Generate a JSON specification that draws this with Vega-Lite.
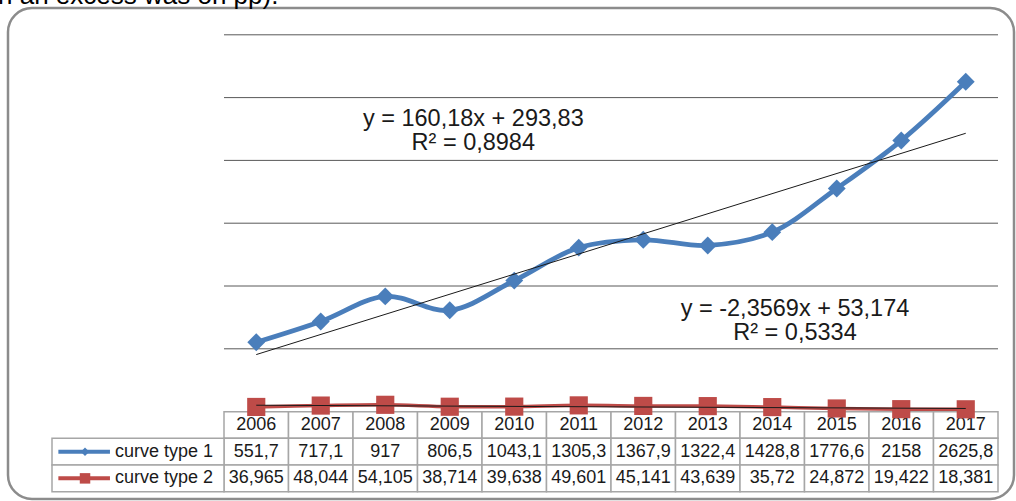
{
  "$schema": "https://vega.github.io/schema/vega-lite/v6.json",
  "width": 1006,
  "height": 491,
  "autosize": {"type": "none"},
  "padding": {"left": 8, "top": 8, "right": 2, "bottom": 2},
  "background": "white",
  "config": {
    "view": {"stroke": "#8c8c8c", "strokeWidth": 2.5, "cornerRadius": 24},
    "font": "Liberation Sans",
    "locale": {"number": {"decimal": ",", "thousands": " ", "grouping": [3], "currency": ["", ""]}}
  },
  "datasets": {
    "main": [
      {"year": 2006, "series": "curve type  1", "value": 551.7},
      {"year": 2007, "series": "curve type  1", "value": 717.1},
      {"year": 2008, "series": "curve type  1", "value": 917},
      {"year": 2009, "series": "curve type  1", "value": 806.5},
      {"year": 2010, "series": "curve type  1", "value": 1043.1},
      {"year": 2011, "series": "curve type  1", "value": 1305.3},
      {"year": 2012, "series": "curve type  1", "value": 1367.9},
      {"year": 2013, "series": "curve type  1", "value": 1322.4},
      {"year": 2014, "series": "curve type  1", "value": 1428.8},
      {"year": 2015, "series": "curve type  1", "value": 1776.6},
      {"year": 2016, "series": "curve type  1", "value": 2158},
      {"year": 2017, "series": "curve type  1", "value": 2625.8},
      {"year": 2006, "series": "curve type  2", "value": 36.965},
      {"year": 2007, "series": "curve type  2", "value": 48.044},
      {"year": 2008, "series": "curve type  2", "value": 54.105},
      {"year": 2009, "series": "curve type  2", "value": 38.714},
      {"year": 2010, "series": "curve type  2", "value": 39.638},
      {"year": 2011, "series": "curve type  2", "value": 49.601},
      {"year": 2012, "series": "curve type  2", "value": 45.141},
      {"year": 2013, "series": "curve type  2", "value": 43.639},
      {"year": 2014, "series": "curve type  2", "value": 35.72},
      {"year": 2015, "series": "curve type  2", "value": 24.872},
      {"year": 2016, "series": "curve type  2", "value": 19.422},
      {"year": 2017, "series": "curve type  2", "value": 18.381}
    ],
    "years": [
      {"year": 2006}, {"year": 2007}, {"year": 2008}, {"year": 2009}, {"year": 2010}, {"year": 2011},
      {"year": 2012}, {"year": 2013}, {"year": 2014}, {"year": 2015}, {"year": 2016}, {"year": 2017}
    ],
    "series": [{"series": "curve type  1"}, {"series": "curve type  2"}],
    "grid": [{"g": 500}, {"g": 1000}, {"g": 1500}, {"g": 2000}, {"g": 2500}, {"g": 3000}]
  },
  "resolve": {"scale": {"x": "independent", "y": "independent", "size": "independent", "color": "shared", "shape": "independent"}},
  "layer": [
    {
      "data": {"values": [{}]},
      "mark": {"type": "text", "align": "left", "baseline": "alphabetic", "fontSize": 26, "color": "#000000"},
      "encoding": {
        "x": {"datum": 2001.996, "type": "quantitative", "scale": {"domain": [2005.5, 2017.5], "range": [216, 990], "nice": false, "zero": false}, "axis": null},
        "y": {"datum": 3246, "type": "quantitative", "scale": {"domain": [0, 3000], "range": [403.6, 26.8], "nice": false, "zero": false}, "axis": null},
        "text": {"value": "n an excess was on  pp)."}
      }
    },
    {
      "data": {"name": "grid"},
      "mark": {"type": "rule", "color": "#595959", "strokeWidth": 1},
      "encoding": {
        "x": {"datum": 2005.5, "type": "quantitative", "scale": {"domain": [2005.5, 2017.5], "range": [216, 990], "nice": false, "zero": false}, "axis": null},
        "x2": {"datum": 2017.5},
        "y": {"field": "g", "type": "quantitative", "scale": {"domain": [0, 3000], "range": [403.6, 26.8], "nice": false, "zero": false}, "axis": null}
      }
    },
    {
      "data": {"name": "years"},
      "mark": {"type": "rect", "fill": "white", "stroke": "#a6a6a6", "strokeWidth": 1.5},
      "encoding": {
        "x": {"field": "year", "type": "ordinal", "scale": {"type": "band", "domain": [2006, 2007, 2008, 2009, 2010, 2011, 2012, 2013, 2014, 2015, 2016, 2017], "range": [216, 990], "paddingInner": 0, "paddingOuter": 0}, "axis": null},
        "y": {"datum": "hdr", "type": "ordinal", "scale": {"type": "band", "domain": ["hdr", "curve type  1", "curve type  2"], "range": [403.7, 483.7], "paddingInner": 0, "paddingOuter": 0}, "axis": null}
      }
    },
    {
      "data": {"name": "main"},
      "mark": {"type": "rect", "fill": "white", "stroke": "#a6a6a6", "strokeWidth": 1.5},
      "encoding": {
        "x": {"field": "year", "type": "ordinal", "scale": {"type": "band", "domain": [2006, 2007, 2008, 2009, 2010, 2011, 2012, 2013, 2014, 2015, 2016, 2017], "range": [216, 990], "paddingInner": 0, "paddingOuter": 0}, "axis": null},
        "y": {"field": "series", "type": "ordinal", "scale": {"type": "band", "domain": ["hdr", "curve type  1", "curve type  2"], "range": [403.7, 483.7], "paddingInner": 0, "paddingOuter": 0}, "axis": null}
      }
    },
    {
      "data": {"name": "series"},
      "mark": {"type": "rect", "fill": "white", "stroke": "#a6a6a6", "strokeWidth": 1.5},
      "encoding": {
        "x": {"datum": 0, "type": "quantitative", "scale": {"domain": [0, 1], "range": [44, 216], "nice": false, "zero": false}, "axis": null},
        "x2": {"datum": 1},
        "y": {"field": "series", "type": "ordinal", "scale": {"type": "band", "domain": ["hdr", "curve type  1", "curve type  2"], "range": [403.7, 483.7], "paddingInner": 0, "paddingOuter": 0}, "axis": null}
      }
    },
    {
      "data": {"name": "series"},
      "mark": {"type": "rule", "strokeWidth": 4},
      "encoding": {
        "x": {"datum": 0.037, "type": "quantitative", "scale": {"domain": [0, 1], "range": [44, 216], "nice": false, "zero": false}, "axis": null},
        "x2": {"datum": 0.337},
        "y": {"field": "series", "type": "ordinal", "scale": {"type": "band", "domain": ["hdr", "curve type  1", "curve type  2"], "range": [403.7, 483.7], "paddingInner": 0, "paddingOuter": 0}, "axis": null},
        "color": {"field": "series", "type": "nominal", "scale": {"domain": ["curve type  1", "curve type  2"], "range": ["#4A7EBB", "#BE4B48"]}, "legend": null}
      }
    },
    {
      "data": {"name": "series"},
      "mark": {"type": "point", "filled": true, "opacity": 1},
      "encoding": {
        "x": {"datum": 0.192, "type": "quantitative", "scale": {"domain": [0, 1], "range": [44, 216], "nice": false, "zero": false}, "axis": null},
        "y": {"field": "series", "type": "ordinal", "scale": {"type": "band", "domain": ["hdr", "curve type  1", "curve type  2"], "range": [403.7, 483.7], "paddingInner": 0, "paddingOuter": 0}, "axis": null},
        "color": {"field": "series", "type": "nominal", "scale": {"domain": ["curve type  1", "curve type  2"], "range": ["#4A7EBB", "#BE4B48"]}, "legend": null},
        "shape": {"field": "series", "type": "nominal", "scale": {"domain": ["curve type  1", "curve type  2"], "range": ["diamond", "square"]}, "legend": null},
        "size": {"field": "series", "type": "nominal", "scale": {"domain": ["curve type  1", "curve type  2"], "range": [70, 110]}, "legend": null}
      }
    },
    {
      "data": {"name": "series"},
      "mark": {"type": "text", "align": "left", "baseline": "middle", "fontSize": 18, "color": "#1a1a1a"},
      "encoding": {
        "x": {"datum": 0.366, "type": "quantitative", "scale": {"domain": [0, 1], "range": [44, 216], "nice": false, "zero": false}, "axis": null},
        "y": {"field": "series", "type": "ordinal", "scale": {"type": "band", "domain": ["hdr", "curve type  1", "curve type  2"], "range": [403.7, 483.7], "paddingInner": 0, "paddingOuter": 0}, "axis": null},
        "text": {"field": "series", "type": "nominal"}
      }
    },
    {
      "data": {"name": "years"},
      "mark": {"type": "text", "align": "center", "baseline": "middle", "fontSize": 18, "color": "#1a1a1a"},
      "encoding": {
        "x": {"field": "year", "type": "ordinal", "scale": {"type": "band", "domain": [2006, 2007, 2008, 2009, 2010, 2011, 2012, 2013, 2014, 2015, 2016, 2017], "range": [216, 990], "paddingInner": 0, "paddingOuter": 0}, "axis": null},
        "y": {"datum": "hdr", "type": "ordinal", "scale": {"type": "band", "domain": ["hdr", "curve type  1", "curve type  2"], "range": [403.7, 483.7], "paddingInner": 0, "paddingOuter": 0}, "axis": null},
        "text": {"field": "year", "type": "ordinal"}
      }
    },
    {
      "data": {"name": "main"},
      "mark": {"type": "text", "align": "center", "baseline": "middle", "fontSize": 18, "color": "#1a1a1a"},
      "encoding": {
        "x": {"field": "year", "type": "ordinal", "scale": {"type": "band", "domain": [2006, 2007, 2008, 2009, 2010, 2011, 2012, 2013, 2014, 2015, 2016, 2017], "range": [216, 990], "paddingInner": 0, "paddingOuter": 0}, "axis": null},
        "y": {"field": "series", "type": "ordinal", "scale": {"type": "band", "domain": ["hdr", "curve type  1", "curve type  2"], "range": [403.7, 483.7], "paddingInner": 0, "paddingOuter": 0}, "axis": null},
        "text": {"field": "value", "type": "quantitative", "format": ".6~g"}
      }
    },
    {
      "data": {"name": "main"},
      "mark": {"type": "line", "interpolate": "catmull-rom"},
      "encoding": {
        "x": {"field": "year", "type": "quantitative", "scale": {"domain": [2005.5, 2017.5], "range": [216, 990], "nice": false, "zero": false}, "axis": null},
        "y": {"field": "value", "type": "quantitative", "scale": {"domain": [0, 3000], "range": [403.6, 26.8], "nice": false, "zero": false}, "axis": null},
        "color": {"field": "series", "type": "nominal", "scale": {"domain": ["curve type  1", "curve type  2"], "range": ["#4A7EBB", "#BE4B48"]}, "legend": null},
        "strokeWidth": {"field": "series", "type": "nominal", "scale": {"domain": ["curve type  1", "curve type  2"], "range": [4.8, 3.5]}, "legend": null}
      }
    },
    {
      "data": {"name": "main"},
      "mark": {"type": "point", "filled": true, "opacity": 1},
      "encoding": {
        "x": {"field": "year", "type": "quantitative", "scale": {"domain": [2005.5, 2017.5], "range": [216, 990], "nice": false, "zero": false}, "axis": null},
        "y": {"field": "value", "type": "quantitative", "scale": {"domain": [0, 3000], "range": [403.6, 26.8], "nice": false, "zero": false}, "axis": null},
        "color": {"field": "series", "type": "nominal", "scale": {"domain": ["curve type  1", "curve type  2"], "range": ["#4A7EBB", "#BE4B48"]}, "legend": null},
        "shape": {"field": "series", "type": "nominal", "scale": {"domain": ["curve type  1", "curve type  2"], "range": ["diamond", "square"]}, "legend": null},
        "size": {"field": "series", "type": "nominal", "scale": {"domain": ["curve type  1", "curve type  2"], "range": [320, 330]}, "legend": null}
      }
    },
    {
      "data": {"name": "main"},
      "transform": [{"regression": "value", "on": "year", "groupby": ["series"]}],
      "mark": {"type": "line", "color": "#1a1a1a", "strokeWidth": 1},
      "encoding": {
        "x": {"field": "year", "type": "quantitative", "scale": {"domain": [2005.5, 2017.5], "range": [216, 990], "nice": false, "zero": false}, "axis": null},
        "y": {"field": "value", "type": "quantitative", "scale": {"domain": [0, 3000], "range": [403.6, 26.8], "nice": false, "zero": false}, "axis": null},
        "detail": {"field": "series", "type": "nominal"}
      }
    },
    {
      "data": {"values": [{}]},
      "mark": {"type": "text", "align": "center", "baseline": "middle", "fontSize": 23.5, "lineHeight": 24, "color": "#1a1a1a"},
      "encoding": {
        "x": {"datum": 2009.365, "type": "quantitative", "scale": {"domain": [2005.5, 2017.5], "range": [216, 990], "nice": false, "zero": false}, "axis": null},
        "y": {"datum": 2326, "type": "quantitative", "scale": {"domain": [0, 3000], "range": [403.6, 26.8], "nice": false, "zero": false}, "axis": null},
        "text": {"value": ["y = 160,18x + 293,83", "R² = 0,8984"]}
      }
    },
    {
      "data": {"values": [{}]},
      "mark": {"type": "text", "align": "center", "baseline": "middle", "fontSize": 23.5, "lineHeight": 24, "color": "#1a1a1a"},
      "encoding": {
        "x": {"datum": 2014.353, "type": "quantitative", "scale": {"domain": [2005.5, 2017.5], "range": [216, 990], "nice": false, "zero": false}, "axis": null},
        "y": {"datum": 817, "type": "quantitative", "scale": {"domain": [0, 3000], "range": [403.6, 26.8], "nice": false, "zero": false}, "axis": null},
        "text": {"value": ["y = -2,3569x + 53,174", "R² = 0,5334"]}
      }
    }
  ]
}
